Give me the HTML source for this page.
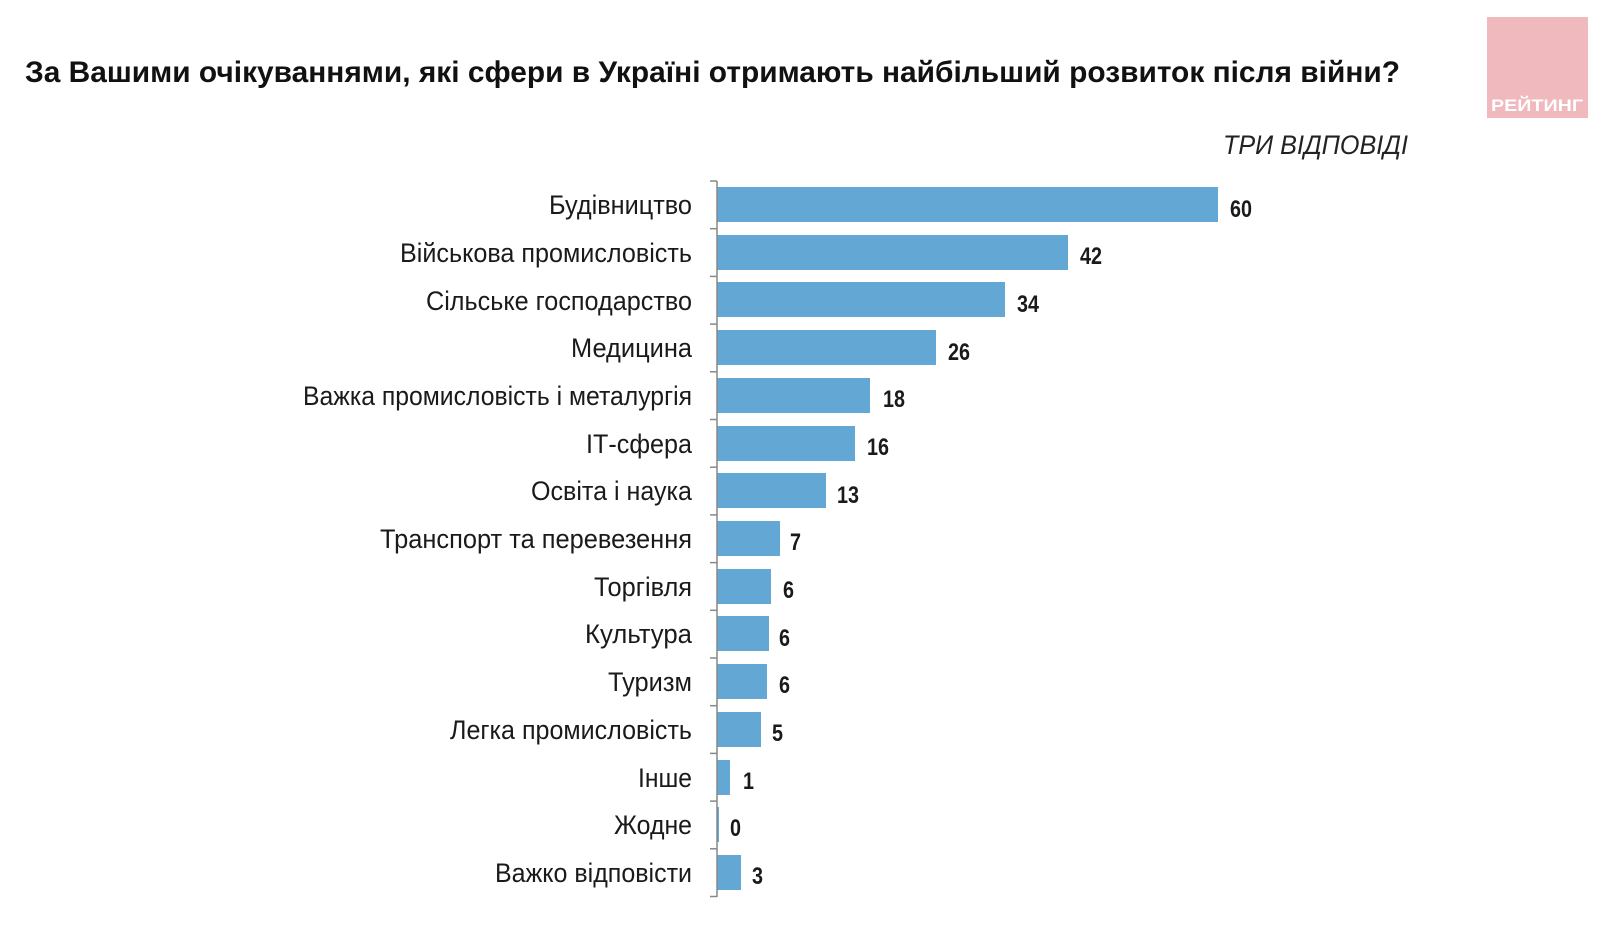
<!DOCTYPE html>
<html><head><meta charset="utf-8"><style>html,body{margin:0;padding:0;background:#fff}svg{display:block}</style></head>
<body>
<svg width="1600" height="945" viewBox="0 0 1600 945" xmlns="http://www.w3.org/2000/svg" font-family="Liberation Sans, sans-serif">
<text x="25" y="82" font-size="30" font-weight="bold" fill="#111" textLength="1375" lengthAdjust="spacingAndGlyphs">За Вашими очікуваннями, які сфери в Україні отримають найбільший розвиток після війни?</text>
<rect x="1487" y="17" width="101" height="101" fill="#f0b9bd"/>
<text x="1537" y="111" font-size="17" font-weight="bold" fill="#fff" text-anchor="middle" textLength="92" lengthAdjust="spacingAndGlyphs">РЕЙТИНГ</text>
<text x="1223" y="154" font-size="27" font-style="italic" fill="#222" textLength="185" lengthAdjust="spacingAndGlyphs">ТРИ ВІДПОВІДІ</text>
<g fill="#63a7d4">
<rect x="717" y="187" width="501" height="35"/>
<rect x="717" y="235" width="351" height="35"/>
<rect x="717" y="282" width="288" height="35"/>
<rect x="717" y="330" width="219" height="35"/>
<rect x="717" y="378" width="153" height="35"/>
<rect x="717" y="426" width="138" height="35"/>
<rect x="717" y="473" width="109" height="35"/>
<rect x="717" y="521" width="63" height="35"/>
<rect x="717" y="569" width="54" height="35"/>
<rect x="717" y="616" width="52" height="35"/>
<rect x="717" y="664" width="50" height="35"/>
<rect x="717" y="712" width="44" height="35"/>
<rect x="717" y="760" width="13" height="35"/>
<rect x="717" y="807" width="2" height="35"/>
<rect x="717" y="855" width="24" height="35"/>
</g>
<g stroke="#888" stroke-width="1.5" fill="none">
<line x1="717" y1="181" x2="717" y2="897"/>
<line x1="710" y1="181.0" x2="717" y2="181.0"/><line x1="710" y1="228.7" x2="717" y2="228.7"/><line x1="710" y1="276.4" x2="717" y2="276.4"/><line x1="710" y1="324.1" x2="717" y2="324.1"/><line x1="710" y1="371.8" x2="717" y2="371.8"/><line x1="710" y1="419.5" x2="717" y2="419.5"/><line x1="710" y1="467.2" x2="717" y2="467.2"/><line x1="710" y1="514.9" x2="717" y2="514.9"/><line x1="710" y1="562.6" x2="717" y2="562.6"/><line x1="710" y1="610.3" x2="717" y2="610.3"/><line x1="710" y1="658.0" x2="717" y2="658.0"/><line x1="710" y1="705.7" x2="717" y2="705.7"/><line x1="710" y1="753.4" x2="717" y2="753.4"/><line x1="710" y1="801.1" x2="717" y2="801.1"/><line x1="710" y1="848.8" x2="717" y2="848.8"/><line x1="710" y1="896.5" x2="717" y2="896.5"/>
</g>
<g font-size="27" fill="#1a1a1a" text-anchor="end">
<text x="692" y="214" textLength="143" lengthAdjust="spacingAndGlyphs">Будівництво</text>
<text x="692" y="262" textLength="292" lengthAdjust="spacingAndGlyphs">Військова промисловість</text>
<text x="692" y="310" textLength="266" lengthAdjust="spacingAndGlyphs">Сільське господарство</text>
<text x="692" y="357" textLength="121" lengthAdjust="spacingAndGlyphs">Медицина</text>
<text x="692" y="405" textLength="389" lengthAdjust="spacingAndGlyphs">Важка промисловість і металургія</text>
<text x="692" y="453" textLength="106" lengthAdjust="spacingAndGlyphs">ІТ-сфера</text>
<text x="692" y="500" textLength="161" lengthAdjust="spacingAndGlyphs">Освіта і наука</text>
<text x="692" y="548" textLength="312" lengthAdjust="spacingAndGlyphs">Транспорт та перевезення</text>
<text x="692" y="596" textLength="98" lengthAdjust="spacingAndGlyphs">Торгівля</text>
<text x="692" y="643" textLength="107" lengthAdjust="spacingAndGlyphs">Культура</text>
<text x="692" y="691" textLength="84" lengthAdjust="spacingAndGlyphs">Туризм</text>
<text x="692" y="739" textLength="242" lengthAdjust="spacingAndGlyphs">Легка промисловість</text>
<text x="692" y="787" textLength="54" lengthAdjust="spacingAndGlyphs">Інше</text>
<text x="692" y="834" textLength="78" lengthAdjust="spacingAndGlyphs">Жодне</text>
<text x="692" y="882" textLength="197" lengthAdjust="spacingAndGlyphs">Важко відповісти</text>
</g>
<g font-size="24" font-weight="bold" fill="#1a1a1a">
<text x="1230" y="217" textLength="22" lengthAdjust="spacingAndGlyphs">60</text>
<text x="1080" y="264" textLength="22" lengthAdjust="spacingAndGlyphs">42</text>
<text x="1017" y="312" textLength="22" lengthAdjust="spacingAndGlyphs">34</text>
<text x="948" y="360" textLength="22" lengthAdjust="spacingAndGlyphs">26</text>
<text x="883" y="407" textLength="22" lengthAdjust="spacingAndGlyphs">18</text>
<text x="867" y="455" textLength="22" lengthAdjust="spacingAndGlyphs">16</text>
<text x="837" y="503" textLength="22" lengthAdjust="spacingAndGlyphs">13</text>
<text x="790" y="550" textLength="11" lengthAdjust="spacingAndGlyphs">7</text>
<text x="783" y="598" textLength="11" lengthAdjust="spacingAndGlyphs">6</text>
<text x="779" y="646" textLength="11" lengthAdjust="spacingAndGlyphs">6</text>
<text x="779" y="693" textLength="11" lengthAdjust="spacingAndGlyphs">6</text>
<text x="772" y="741" textLength="11" lengthAdjust="spacingAndGlyphs">5</text>
<text x="743" y="789" textLength="11" lengthAdjust="spacingAndGlyphs">1</text>
<text x="730" y="836" textLength="11" lengthAdjust="spacingAndGlyphs">0</text>
<text x="752" y="884" textLength="11" lengthAdjust="spacingAndGlyphs">3</text>
</g>
</svg>
</body></html>
